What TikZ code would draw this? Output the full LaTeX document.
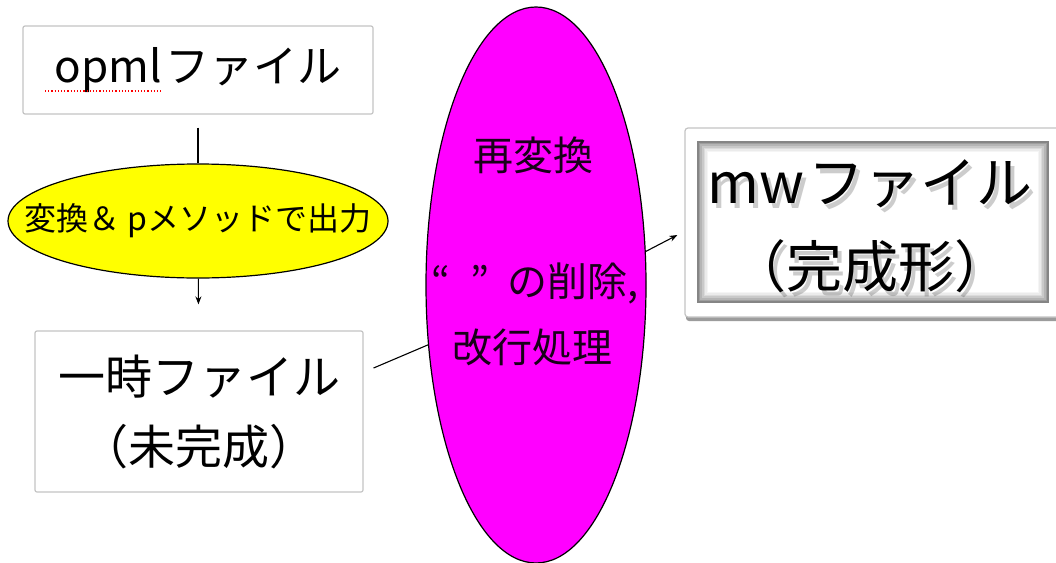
\documentclass[tikz,border=0pt]{standalone}
\usepackage{fontspec}
\setmainfont{Noto Sans CJK JP}
\usetikzlibrary{shapes.geometric,arrows.meta,shadows}
\definecolor{boxline}{HTML}{C4C4C4}
\definecolor{yel}{HTML}{FFFF00}
\definecolor{mag}{HTML}{FF00FF}
\begin{document}
\begin{tikzpicture}[x=1pt,y=-1pt,
  filebox/.style={draw=boxline, line width=1.2pt, rounded corners=2pt, fill=white, inner sep=0pt, align=center},
  blob/.style={ellipse, draw=black, line width=1.2pt, inner sep=0pt},
  conn/.style={line width=1.1pt, black},
  tip/.style={-{Stealth[length=8pt,width=6pt]}},
  magtext/.style={font=\fontsize{40}{48}\selectfont, text=black!90!mag},
  shadowtext/.style={text=black, opacity=0.2, align=center}]
\clip (0,0) rectangle (1056,562);
\fill[white] (0,0) rectangle (1056,562);

% opml file box
\node[filebox, minimum width=350pt, minimum height=88pt, font=\fontsize{44}{52}\selectfont] (opml) at (198,70) {opml\hspace{4pt}ファイル};
\draw[red, dotted, line width=1.2pt] (45,91) -- (162,91);

% yellow conversion ellipse
\node[blob, fill=yel, minimum width=380pt, minimum height=114pt] (conv) at (198,221) {};
\node[font=\fontsize{32}{38}\selectfont] (convt) at (198,221) {変換＆ pメソッドで出力};

% temporary file box
\node[filebox, minimum width=328pt, minimum height=161pt, font=\fontsize{47}{70}\selectfont] (tmp) at (199,411.5) {一時ファイル\\（未完成）};

% magenta re-conversion ellipse
\node[blob, fill=mag, minimum width=220pt, minimum height=556pt] (re) at (536,285) {};
\node[magtext] (ret1) at (533,155) {再変換};
\node[magtext] (ret2) at (535,283) {“\hspace{20pt}”\hspace{18pt}の削除,};
\node[magtext] (ret3) at (532,347) {改行処理};

% final mw file box
\node[draw=boxline, line width=1.2pt, rounded corners=3pt, fill=white, minimum width=379pt, minimum height=189pt,
      drop shadow={shadow xshift=1pt, shadow yshift=-4pt, fill=black!70, opacity=0.55}] (mw) at (874.5,222.5) {};
\foreach \i/\g in {0/48,1/38,2/29,3/21,4/14,5/8,6/4} {
  \draw[black!\g, line width=1.6pt] (698+1.6*\i,142+1.6*\i) rectangle (1048-1.6*\i,302-1.6*\i);
}
\node[shadowtext, font=\fontsize{56}{84}\selectfont] (mwsh) at (874,231) {mw\hspace{4pt}ファイル\\（完成形）};
\node[align=center, font=\fontsize{56}{84}\selectfont] (mwt) at (870,226) {mw\hspace{4pt}ファイル\\（完成形）};

% connectors
\draw[conn, shorten <=13pt] (opml) -- (conv);
\draw[conn, tip, shorten >=26pt] (conv) -- (tmp);
\draw[conn] ([shift={(10pt,43.5pt)}]tmp.east) -- (re.209);
\draw[conn, tip] (re.17) -- ([shift={(-7pt,-12.5pt)}]mw.west);
\end{tikzpicture}
\end{document}
